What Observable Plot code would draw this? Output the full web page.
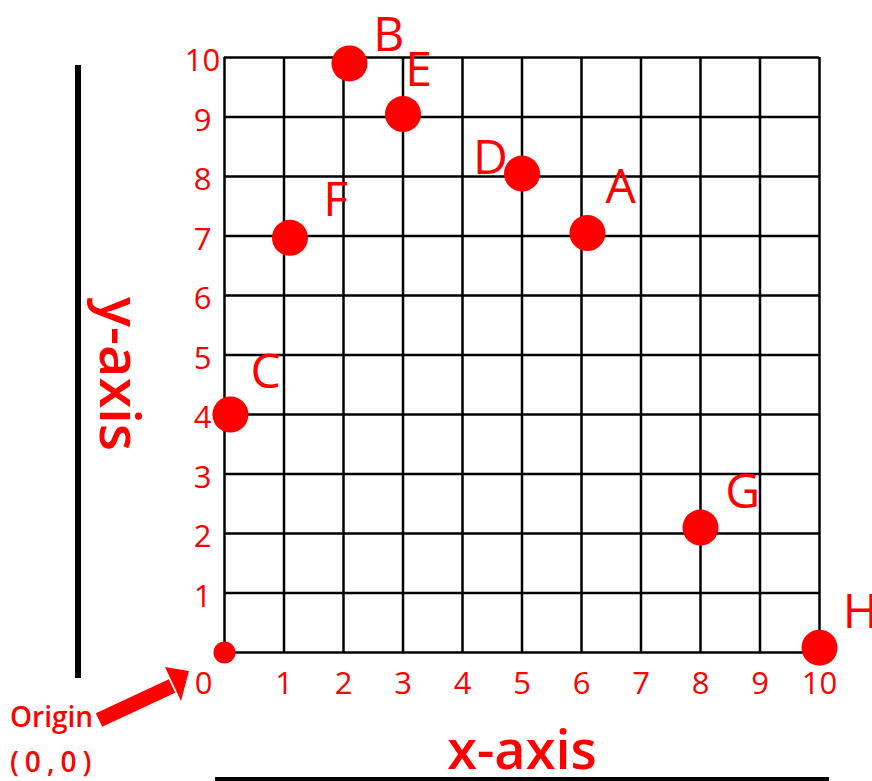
<!DOCTYPE html>
<html>
<head>
<meta charset="utf-8">
<script src="https://cdn.jsdelivr.net/npm/d3@7"></script>
<script src="https://cdn.jsdelivr.net/npm/@observablehq/plot@0.6"></script>
<style>
  html, body { margin: 0; padding: 0; background: #fff; }
  svg { display: block; }
</style>
</head>
<body>
<div id="chart"></div>
<script>
// Named points
const names   = ["A", "B", "C", "D", "E", "F", "G", "H"];
const xValues = [6.1, 2.1, 0.1, 5.0, 3.0, 1.1, 8.0, 10.0];
const yValues = [7.05, 9.9, 4.0, 8.05, 9.05, 6.97, 2.1, 0.08];
// where each letter label sits (data units)
const labelX  = [6.66, 2.76, 0.69, 4.47, 3.26, 1.87, 8.71, 10.69];
const labelY  = [7.82, 10.37, 4.71, 8.30, 9.78, 7.60, 2.69, 0.67];
const origin  = [{x: 0, y: 0}];
const xTicks  = [0, 1, 2, 3, 4, 5, 6, 7, 8, 9, 10];
const yTicks  = [1, 2, 3, 4, 5, 6, 7, 8, 9, 10];
const xTitle  = "x-axis";
const yTitle  = "y-axis";
const originText = ["Origin", "(0,0)"];

const points = names.map((n, i) => ({name: n, x: xValues[i], y: yValues[i], lx: labelX[i], ly: labelY[i]}));

const FONT = "'Comic Sans MS', 'Open Sans', 'Noto Sans', sans-serif";
const RED = "#ff0000";

const chart = Plot.plot({
  width: 872,
  height: 781,
  marginLeft: 224,
  marginRight: 53,
  marginTop: 57,
  marginBottom: 129,
  style: {fontFamily: FONT, background: "#fff", overflow: "visible"},
  x: {domain: [0, 10], axis: null},
  y: {domain: [0, 10], axis: null},
  marks: [
    Plot.ruleX(xTicks, {x: d => d, stroke: "black", strokeWidth: 2.5}),
    Plot.ruleY([0, ...yTicks], {y: d => d, stroke: "black", strokeWidth: 2.5}),
    // tick labels
    Plot.text(xTicks.filter(d => d > 0), {x: d => d, y: 0, dy: 32, text: d => String(d), fill: RED, fontSize: 31, textAnchor: "middle"}),
    Plot.text(xTicks.filter(d => d === 0), {x: d => d, y: 0, dy: 32, dx: -21, text: d => String(d), fill: RED, fontSize: 31, textAnchor: "middle"}),
    Plot.text(yTicks, {x: 0, y: d => d, dx: -22, dy: 4, text: d => String(d), fill: RED, fontSize: 31, textAnchor: "middle"}),
    // points
    Plot.dot(origin, {x: "x", y: "y", r: 11, fill: RED}),
    Plot.dot(points, {x: "x", y: "y", r: 18, fill: RED}),
    Plot.text(points, {x: "lx", y: "ly", text: "name", fill: RED, fontSize: 48, textAnchor: "middle"})
  ]
});

const svg = d3.select(chart);
// decorative axis bars and titles
svg.append("line").attr("x1", 78).attr("x2", 78).attr("y1", 65).attr("y2", 678)
  .attr("stroke", "black").attr("stroke-width", 6);
svg.append("line").attr("x1", 215).attr("x2", 829).attr("y1", 779).attr("y2", 779)
  .attr("stroke", "black").attr("stroke-width", 4);
svg.append("text").text(xTitle).attr("x", 522).attr("y", 769)
  .attr("text-anchor", "middle").attr("fill", RED).attr("font-size", 54).attr("font-weight", 600)
  .attr("font-family", FONT);
svg.append("text").text(yTitle).attr("transform", "translate(100,374) rotate(90)")
  .attr("text-anchor", "middle").attr("fill", RED).attr("font-size", 56).attr("font-weight", 600)
  .attr("font-family", FONT);
// origin annotation
svg.append("text").text(originText[0]).attr("x", 10).attr("y", 727)
  .attr("text-anchor", "start").attr("fill", RED).attr("font-size", 28).attr("font-weight", 600)
  .attr("font-family", FONT);
svg.append("text").text(originText[1]).attr("x", 10).attr("y", 772)
  .attr("text-anchor", "start").attr("fill", RED).attr("font-size", 28).attr("font-weight", 600)
  .attr("letter-spacing", 6).attr("font-family", FONT);
svg.append("line").attr("x1", 99).attr("y1", 720).attr("x2", 172).attr("y2", 686)
  .attr("stroke", RED).attr("stroke-width", 15);
svg.append("polygon").attr("points", "165,667 189,671 181,701").attr("fill", RED);

document.getElementById("chart").appendChild(chart);
</script>
</body>
</html>
